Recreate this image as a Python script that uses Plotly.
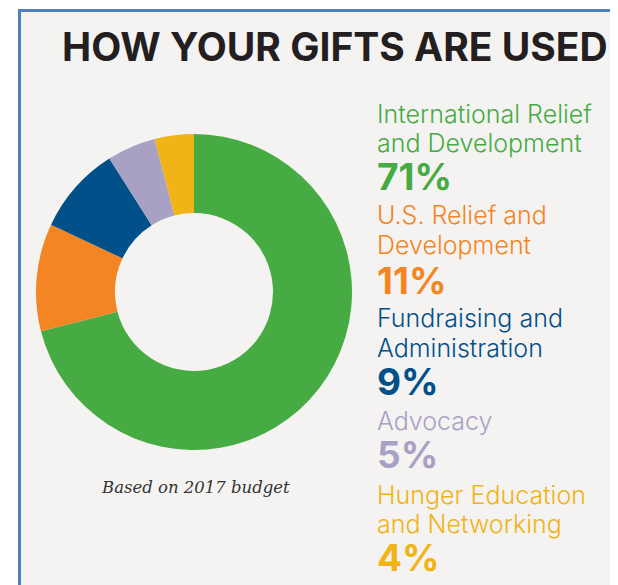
import plotly.graph_objects as go

W, H = 618, 585
OX, OY = 8, 8  # page body margin of the browser

categories = ["International Relief and Development", "U.S. Relief and Development",
              "Fundraising and Administration", "Advocacy", "Hunger Education and Networking"]
label_lines = [["International Relief", "and Development"], ["U.S. Relief and", "Development"],
               ["Fundraising and", "Administration"], ["Advocacy"], ["Hunger Education", "and Networking"]]
values = [71, 11, 9, 5, 4]
colors = ["#47ab44", "#f48523", "#01508a", "#a9a1c4", "#f0b416"]

title_text = "HOW YOUR GIFTS ARE USED"
note_text = "Based on 2017 budget"

def px(x):
    return (x - OX) / W

def py(y):
    return 1 - (y - OY) / H

fig = go.Figure()
fig.add_trace(go.Pie(
    labels=categories, values=values, hole=0.5, sort=False, direction="clockwise",
    rotation=0, marker=dict(colors=colors, line=dict(width=0)), textinfo="none",
    hoverinfo="label+percent", showlegend=False,
    domain=dict(x=[px(36), px(352)], y=[py(450), py(134)]),
))

annotations = []
annotations.append(dict(text="<b>" + title_text + "</b>", x=px(60), y=py(47), xref="paper", yref="paper",
                        xanchor="left", yanchor="middle", showarrow=False,
                        font=dict(family="Inter", size=39, color="#231f20")))
annotations.append(dict(text="<i>" + note_text + "</i>", x=px(195), y=py(487), xref="paper", yref="paper",
                        xanchor="center", yanchor="middle", showarrow=False,
                        font=dict(family="DejaVu Serif", size=16.5, color="#333333")))

line_y = [[114, 143], [215, 245], [318, 348], [421], [495, 524]]
pct_y = [177, 280, 381, 455, 557]
for lines, v, c, ys, pyy in zip(label_lines, values, colors, line_y, pct_y):
    for t, ly in zip(lines, ys):
        annotations.append(dict(text=t, x=px(375), y=py(ly), xref="paper", yref="paper",
                                xanchor="left", yanchor="middle", showarrow=False, align="left",
                                font=dict(family="Inter", size=25, color=c, weight=300)))
    annotations.append(dict(text="<b>%d%%</b>" % v, x=px(375), y=py(pyy), xref="paper", yref="paper",
                            xanchor="left", yanchor="middle", showarrow=False, align="left",
                            font=dict(family="Inter", size=37, color=c)))

fig.update_layout(
    width=W, height=H, margin=dict(l=0, r=0, t=0, b=0),
    paper_bgcolor="#ffffff", plot_bgcolor="#ffffff",
    annotations=annotations,
    shapes=[dict(type="rect", xref="paper", yref="paper", x0=px(19.5), y0=-0.1, x1=1.2, y1=py(10.5),
                 fillcolor="#f4f3f2", line=dict(color="#4f81bd", width=3), layer="below")],
)

fig.write_html("out.html")
